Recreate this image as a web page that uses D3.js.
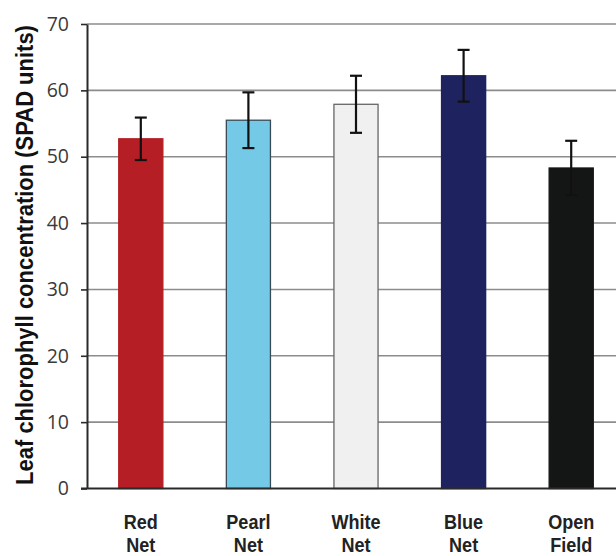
<!DOCTYPE html>
<html>
<head>
<meta charset="utf-8">
<script src="https://cdn.jsdelivr.net/npm/d3@7"></script>
<style>
  html, body { margin: 0; padding: 0; background: #fff; }
  svg { display: block; }
</style>
</head>
<body>
<svg id="chart" width="616" height="556"></svg>
<script>
// Leaf chlorophyll (SPAD) under coloured shade nets vs open field
const categories = [["Red", "Net"], ["Pearl", "Net"], ["White", "Net"], ["Blue", "Net"], ["Open", "Field"]];
const means = [52.7, 55.5, 57.9, 62.2, 48.3];
const errors = [3.2, 4.2, 4.3, 3.9, 4.1];
const fills = ["#b41e24", "#74c9e6", "#f0f0f0", "#1e2360", "#141615"];
const strokes = ["#b41e24", "#3a4a55", "#666666", "#1e2360", "#141615"];
const yTicks = [0, 10, 20, 30, 40, 50, 60, 70];

const svg = d3.select("#chart");
const margin = { left: 87, top: 24, bottom: 488.5 };
const step = 107.6;

const x = d3.scaleBand()
  .domain(d3.range(categories.length))
  .range([margin.left, margin.left + step * categories.length])
  .paddingInner(0.59)
  .paddingOuter(0.295);

const y = d3.scaleLinear().domain([0, 70]).range([margin.bottom, margin.top]);

// horizontal gridlines
svg.append("g")
  .selectAll("line")
  .data(yTicks.filter(d => d > 0))
  .join("line")
  .attr("x1", margin.left)
  .attr("x2", 616)
  .attr("y1", d => y(d))
  .attr("y2", d => y(d))
  .attr("stroke", "#8c8c8c")
  .attr("stroke-width", 1.6);

// y axis
const yAxis = svg.append("g")
  .attr("transform", `translate(${margin.left},0)`)
  .call(d3.axisLeft(y).tickValues(yTicks).tickSize(6).tickPadding(12).tickSizeOuter(0));
yAxis.select(".domain").attr("stroke", "#2a2a2a").attr("stroke-width", 2);
yAxis.selectAll(".tick line").attr("stroke", "#2a2a2a").attr("stroke-width", 1.6);
yAxis.selectAll(".tick text")
  .attr("fill", "#3a3a3a")
  .style("font-family", "'Open Sans', 'DejaVu Sans', sans-serif")
  .style("font-size", "19.5px");

// bars
svg.append("g")
  .selectAll("rect")
  .data(means)
  .join("rect")
  .attr("x", (d, i) => x(i))
  .attr("width", x.bandwidth())
  .attr("y", d => y(d))
  .attr("height", d => y(0) - y(d))
  .attr("fill", (d, i) => fills[i])
  .attr("stroke", (d, i) => strokes[i])
  .attr("stroke-width", 1.3);

// baseline
svg.append("line")
  .attr("x1", margin.left - 6)
  .attr("x2", 616)
  .attr("y1", y(0))
  .attr("y2", y(0))
  .attr("stroke", "#2a2a2a")
  .attr("stroke-width", 2);

// error bars
const eb = svg.append("g").attr("stroke", "#111").attr("stroke-width", 2.2);
means.forEach((m, i) => {
  const cx = x(i) + x.bandwidth() / 2;
  const g = eb.append("g");
  g.append("line").attr("x1", cx).attr("x2", cx).attr("y1", y(m + errors[i])).attr("y2", y(m - errors[i]));
  [m + errors[i], m - errors[i]].forEach(v => {
    g.append("line").attr("x1", cx - 6).attr("x2", cx + 6).attr("y1", y(v)).attr("y2", y(v));
  });
});

// category labels (condensed bold)
const lab = svg.append("g")
  .style("font-family", "'Liberation Sans', Arial, sans-serif")
  .style("font-weight", "bold")
  .style("font-size", "21px")
  .attr("fill", "#222")
  .attr("text-anchor", "middle");
categories.forEach((lines, i) => {
  const cx = x(i) + x.bandwidth() / 2;
  const t = lab.append("text").attr("transform", `translate(${cx},529) scale(0.86,1)`);
  lines.forEach((s, j) => t.append("tspan").attr("x", 0).attr("dy", j === 0 ? 0 : 23.5).text(s));
});

// y axis title, condensed along its length
const title = svg.append("text")
  .attr("text-anchor", "middle")
  .style("font-family", "'Liberation Sans', Arial, sans-serif")
  .style("font-weight", "bold")
  .style("font-size", "24.5px")
  .attr("fill", "#111")
  .text("Leaf chlorophyll concentration (SPAD units)");
const squeeze = 460 / title.node().getComputedTextLength();
title.attr("transform", `translate(33,${(25 + 485) / 2}) rotate(-90) scale(${squeeze},1)`);
</script>
</body>
</html>
